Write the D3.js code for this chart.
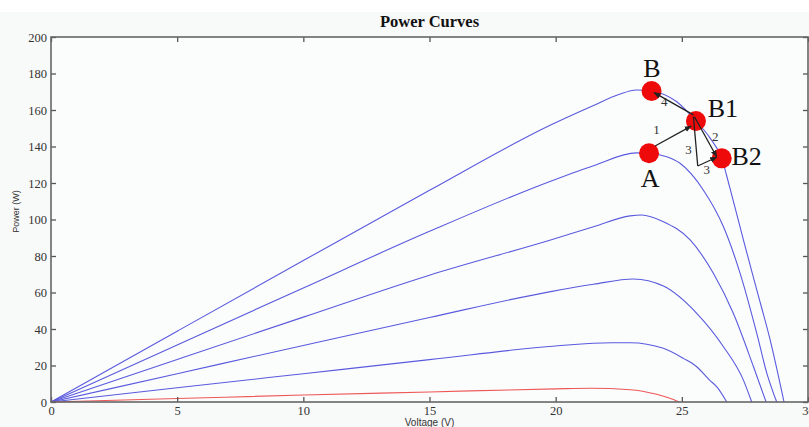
<!DOCTYPE html>
<html>
<head>
<meta charset="utf-8">
<script src="https://cdn.jsdelivr.net/npm/d3@7"></script>
<style>
    html, body { margin: 0; padding: 0; background: #ffffff; }
    svg { display: block; }
</style>
</head>
<body>
<div id="chart"></div>
<script>
// Power vs voltage curves, [voltage, power]
const curve1 = [[0, 0], [5, 38.8], [10, 77.5], [15, 116], [19.8, 151.8], [21.5, 162.5], [22.5, 168.5], [23.2, 171], [23.8, 170.4], [24.8, 164.5], [25.56, 154], [26.1, 145], [26.58, 133.5], [26.91, 117], [27.44, 88.8], [27.97, 61.4], [28.5, 34], [29.05, 0]];
const curve2 = [[0, 0], [5, 31.3], [10, 62.5], [15, 93.5], [19.8, 121], [21.5, 129.5], [23.2, 136.5], [23.7, 136.3], [24.4, 134.4], [24.93, 130.8], [25.85, 116.2], [26.65, 96], [27.31, 70.5], [27.97, 37.6], [28.37, 15.7], [28.76, 0]];
const curve3 = [[0, 0], [5, 23.3], [10, 46.5], [15, 69.5], [19.8, 88.8], [21.5, 96], [22.95, 102], [23.4, 102.5], [24.27, 98.8], [25.33, 88.8], [26.25, 70.5], [27.04, 48.6], [27.84, 19.3], [28.34, 0]];
const curve4 = [[0, 0], [5, 15.5], [10, 31], [15, 46.3], [19.8, 60.5], [21.5, 64.5], [23.08, 67.4], [24.27, 63.5], [25.59, 48.6], [26.65, 30.3], [27.44, 12], [27.77, 0]];
const curve5 = [[0, 0], [5, 7.8], [10, 15.5], [15, 23.2], [20, 30.7], [22.2, 32.5], [22.95, 32.5], [24.27, 29.4], [25.06, 23.9], [25.59, 19.3], [26.1, 12], [26.38, 8.4], [26.78, 0]];
const curveLow = [[0, 0], [5, 1.9], [10, 3.8], [15, 5.5], [20, 7.2], [21.4, 7.5], [22.95, 6.7], [24, 4.2], [24.5, 2.2], [24.9, 0]];

const blueCurves = [curve1, curve2, curve3, curve4, curve5];

// operating points
const points = [
    {name: "A", v: 23.7, p: 136.3},
    {name: "B", v: 23.8, p: 170.4},
    {name: "B1", v: 25.56, p: 154},
    {name: "B2", v: 26.58, p: 133.5},
];

// step arrows between points, [fromV, fromP, toV, toP, hasHead]
const steps = [
    [23.94, 140.3, 25.37, 151.2, true],
    [25.46, 157.3, 23.9, 169.5, true],
    [25.5, 156.3, 26.38, 134.4, true],
    [25.46, 156.3, 25.63, 129.3, false],
    [25.63, 129.3, 26.38, 134.1, true],
];

// labels in data coordinates (baseline)
const bigLabels = [
    {text: "B", v: 23.81, p: 178},
    {text: "B1", v: 26.63, p: 156.3},
    {text: "B2", v: 27.57, p: 129.9},
    {text: "A", v: 23.74, p: 118},
];
const stepLabels = [
    {text: "4", v: 24.3, p: 162.4},
    {text: "1", v: 24.0, p: 146.8},
    {text: "2", v: 26.32, p: 143.2},
    {text: "3", v: 25.26, p: 135.9},
    {text: "3", v: 25.99, p: 124.9},
];

const xTicks = [0, 5, 10, 15, 20, 25, 30];
const yTicks = [0, 20, 40, 60, 80, 100, 120, 140, 160, 180, 200];

const outerWidth = 809;
const outerHeight = 427;
const margin = {top: 37, right: 1, bottom: 25, left: 51};
const width = outerWidth - margin.left - margin.right;
const height = outerHeight - margin.top - margin.bottom;
const serif = "'Liberation Serif', 'Times New Roman', serif";
const sans = "'Liberation Sans', Arial, sans-serif";

const svg = d3.select("#chart")
    .append("svg")
    .attr("width", outerWidth)
    .attr("height", outerHeight);

svg.append("rect")
    .attr("x", 0)
    .attr("y", 12)
    .attr("width", outerWidth)
    .attr("height", outerHeight - 12)
    .attr("fill", "#f8f9f9");

const defs = svg.append("defs");
defs.append("marker")
    .attr("id", "head")
    .attr("viewBox", "0 0 10 10")
    .attr("refX", 9)
    .attr("refY", 5)
    .attr("markerWidth", 5.5)
    .attr("markerHeight", 5.5)
    .attr("orient", "auto")
    .append("path")
    .attr("d", "M0,1 L10,5 L0,9 Z")
    .attr("fill", "#222");

const plot = svg.append("g")
    .attr("transform", `translate(${margin.left}, ${margin.top})`);

const x = d3.scaleLinear().domain([0, 30]).range([0, width]);
const y = d3.scaleLinear().domain([0, 200]).range([height, 0]);

plot.append("rect")
    .attr("width", width)
    .attr("height", height)
    .attr("fill", "#fbfcfc");

const line = d3.line()
    .x((d) => x(d[0]))
    .y((d) => y(d[1]))
    .curve(d3.curveMonotoneX);

plot.selectAll(".pv-curve")
    .data(blueCurves)
    .enter()
    .append("path")
    .attr("class", "pv-curve")
    .attr("fill", "none")
    .attr("stroke", "#5a5ade")
    .attr("stroke-width", 1.1)
    .attr("d", line);

plot.append("path")
    .datum(curveLow)
    .attr("fill", "none")
    .attr("stroke", "#ee5858")
    .attr("stroke-width", 1.1)
    .attr("d", line);

// axes, ticks inside like the original
const styleAxis = (g) => {
    g.select(".domain").remove();
    g.selectAll("line").attr("stroke", "#555").attr("stroke-width", 1.3);
    g.selectAll("text")
        .attr("font-family", serif)
        .attr("font-size", 12.5)
        .attr("fill", "#333");
};

plot.append("g")
    .attr("transform", `translate(0, ${height})`)
    .call(d3.axisBottom(x).tickValues(xTicks).tickSizeInner(-5).tickSizeOuter(0).tickPadding(4))
    .call(styleAxis);

plot.append("g")
    .call(d3.axisTop(x).tickValues(xTicks).tickSizeInner(-5).tickSizeOuter(0).tickFormat(""))
    .call(styleAxis);

plot.append("g")
    .call(d3.axisLeft(y).tickValues(yTicks).tickSizeInner(-5).tickSizeOuter(0).tickPadding(4))
    .call(styleAxis);

plot.append("g")
    .attr("transform", `translate(${width}, 0)`)
    .call(d3.axisRight(y).tickValues(yTicks).tickSizeInner(-5).tickSizeOuter(0).tickFormat(""))
    .call(styleAxis);

plot.append("rect")
    .attr("width", width)
    .attr("height", height)
    .attr("fill", "none")
    .attr("stroke", "#666")
    .attr("stroke-width", 1.6);

plot.selectAll(".op-point")
    .data(points)
    .enter()
    .append("circle")
    .attr("class", "op-point")
    .attr("cx", (d) => x(d.v))
    .attr("cy", (d) => y(d.p))
    .attr("r", 10)
    .attr("fill", "#ee0a0a");

// step arrows drawn over the circles
plot.selectAll(".step")
    .data(steps)
    .enter()
    .append("line")
    .attr("class", "step")
    .attr("x1", (d) => x(d[0]))
    .attr("y1", (d) => y(d[1]))
    .attr("x2", (d) => x(d[2]))
    .attr("y2", (d) => y(d[3]))
    .attr("stroke", "#222")
    .attr("stroke-width", 1.3)
    .attr("marker-end", (d) => (d[4] ? "url(#head)" : null));

plot.selectAll(".big-label")
    .data(bigLabels)
    .enter()
    .append("text")
    .attr("x", (d) => x(d.v))
    .attr("y", (d) => y(d.p))
    .attr("text-anchor", "middle")
    .attr("font-family", serif)
    .attr("font-size", 26)
    .attr("fill", "#111")
    .text((d) => d.text);

plot.selectAll(".step-label")
    .data(stepLabels)
    .enter()
    .append("text")
    .attr("x", (d) => x(d.v))
    .attr("y", (d) => y(d.p))
    .attr("text-anchor", "middle")
    .attr("font-family", serif)
    .attr("font-size", 13)
    .attr("fill", "#333")
    .text((d) => d.text);

svg.append("text")
    .attr("x", margin.left + width / 2)
    .attr("y", 27)
    .attr("text-anchor", "middle")
    .attr("font-family", serif)
    .attr("font-weight", "bold")
    .attr("font-size", 16.5)
    .attr("fill", "#111")
    .text("Power Curves");

svg.append("text")
    .attr("transform", `translate(19, ${margin.top + height / 2 - 8}) rotate(-90)`)
    .attr("text-anchor", "middle")
    .attr("font-family", sans)
    .attr("font-size", 9)
    .attr("fill", "#333")
    .text("Power (W)");

svg.append("text")
    .attr("x", margin.left + width / 2)
    .attr("y", 426)
    .attr("text-anchor", "middle")
    .attr("font-family", sans)
    .attr("font-size", 10)
    .attr("fill", "#333")
    .text("Voltage (V)");
</script>
</body>
</html>
